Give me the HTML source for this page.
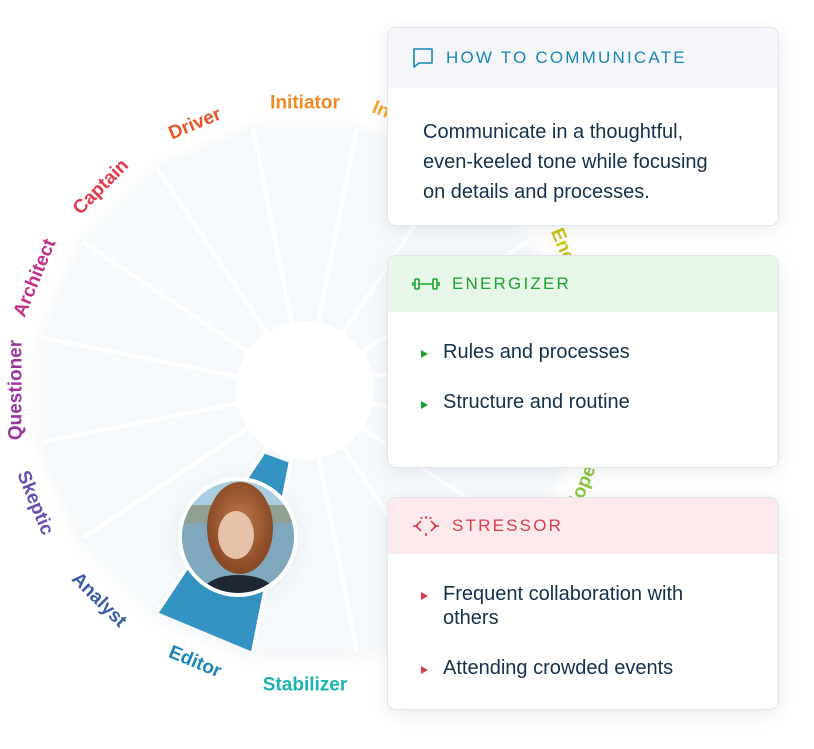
<!DOCTYPE html>
<html><head><meta charset="utf-8"><style>
body{margin:0;width:814px;height:749px;background:#fff;position:relative;overflow:hidden;font-family:"Liberation Sans",sans-serif}
svg{position:absolute;left:0;top:0}
.card{position:absolute;left:387px;width:390px;background:#fff;border:1px solid #e2e5e9;border-radius:9px;box-shadow:0 4px 18px rgba(40,60,90,.10);overflow:hidden}
.hd{height:60px;display:flex;align-items:center;padding-left:24px;font-size:17px;letter-spacing:2.2px}
.hd svg{position:static;margin-right:12px}
.body{color:#14304a;font-size:20px}
.li{position:absolute;left:55px;font-size:20px;color:#14304a;line-height:24px}
.tri{position:absolute;left:33px;width:0;height:0;border-top:4.5px solid transparent;border-bottom:4.5px solid transparent;border-left:7px solid}
</style></head><body>
<svg width="814" height="749">
<defs>
<filter id="sh" x="-20%" y="-20%" width="140%" height="140%"><feDropShadow dx="0" dy="3" stdDeviation="8" flood-color="#3a5570" flood-opacity=".08"/></filter>
<clipPath id="av"><circle cx="238" cy="537" r="56"/></clipPath>
<radialGradient id="hair" cx=".5" cy=".45" r=".5"><stop offset="0" stop-color="#c07a4a"/><stop offset="1" stop-color="#8a4a25"/></radialGradient>
</defs>
<polygon filter="url(#sh)" fill="#f5f9fc" points="253,128 357,128 453,168 527,242 567,338 567,442 527,538 453,612 357,652 253,652 157,612 83,538 43,442 43,338 83,242 157,168"/>
<polygon fill="#3393c2" points="253,652 157,612 263,453 290,463"/>
<g stroke="#fff" stroke-width="4">
<line x1="305" y1="390" x2="253" y2="128"/><line x1="305" y1="390" x2="357" y2="128"/><line x1="305" y1="390" x2="453" y2="168"/><line x1="305" y1="390" x2="527" y2="242"/><line x1="305" y1="390" x2="567" y2="338"/><line x1="305" y1="390" x2="567" y2="442"/><line x1="305" y1="390" x2="527" y2="538"/><line x1="305" y1="390" x2="453" y2="612"/><line x1="305" y1="390" x2="357" y2="652"/><line x1="305" y1="390" x2="253" y2="652"/><line x1="305" y1="390" x2="157" y2="612"/><line x1="305" y1="390" x2="83" y2="538"/><line x1="305" y1="390" x2="43" y2="442"/><line x1="305" y1="390" x2="43" y2="338"/><line x1="305" y1="390" x2="83" y2="242"/><line x1="305" y1="390" x2="157" y2="168"/>
</g>
<circle cx="305" cy="390" r="69" fill="#fff"/>
<g font-family="Liberation Sans,sans-serif" font-size="19" font-weight="bold" text-anchor="middle" dominant-baseline="central">
<text transform="translate(305,103)" fill="#f08a24">Initiator</text>
<text transform="translate(415,124) rotate(22.5)" fill="#f5a623">Influencer</text>
<text transform="translate(509,187) rotate(45)" fill="#e7c21a">Motivator</text>
<text transform="translate(576,278) rotate(67.5)" fill="#c9c614">Encourager</text>
<text transform="translate(576,502) rotate(-67.5)" fill="#8cc63f">Developer</text>
<text transform="translate(195,124) rotate(-22.5)" fill="#e8562a">Driver</text>
<text transform="translate(101,187) rotate(-45)" fill="#e03c4d">Captain</text>
<text transform="translate(35,278) rotate(-67.5)" fill="#c42f8a">Architect</text>
<text transform="translate(16,390) rotate(-90)" fill="#9b35a0">Questioner</text>
<text transform="translate(35,503) rotate(67.5)" fill="#6b4fb0">Skeptic</text>
<text transform="translate(99,600) rotate(45)" fill="#3b5aa8">Analyst</text>
<text transform="translate(195,662) rotate(22.5)" fill="#1a86b8">Editor</text>
<text transform="translate(305,685)" fill="#1ab5b0">Stabilizer</text>
</g>
<circle cx="238" cy="537" r="60" fill="#fff" filter="url(#sh)"/>
<g clip-path="url(#av)">
<rect x="180" y="480" width="120" height="120" fill="#a9cde0"/>
<rect x="180" y="520" width="120" height="80" fill="#7fa8bc"/>
<rect x="180" y="505" width="120" height="18" fill="#8f9f90"/>
<ellipse cx="240" cy="528" rx="33" ry="46" fill="url(#hair)"/>
<ellipse cx="236" cy="535" rx="18" ry="24" fill="#e7c2a8"/>
<path d="M195 600 Q205 575 238 575 Q272 575 282 600Z" fill="#1f2633"/>
</g>
</svg>

<div class="card" style="top:27px;height:197px">
<div class="hd" style="background:#f4f6f9;color:#1a86b8">
<svg width="22" height="22" viewBox="0 0 22 22"><path d="M2 2h18v14H7l-5 4z" fill="none" stroke="#1a86b8" stroke-width="1.6" stroke-linejoin="round"/></svg>HOW TO COMMUNICATE</div>
<div class="body" style="position:absolute;left:35px;top:89px;line-height:30px">Communicate in a thoughtful,<br>even-keeled tone while focusing<br>on details and processes.</div>
</div>

<div class="card" style="top:255px;height:211px">
<div class="hd" style="background:#e6f6e8;color:#1ea22f;height:56px">
<svg width="28" height="16" viewBox="0 0 28 16"><g fill="none" stroke="#1ea22f" stroke-width="1.6"><rect x="3" y="3" width="4" height="10" rx="1"/><rect x="21" y="3" width="4" height="10" rx="1"/><line x1="7" y1="8" x2="21" y2="8"/><line x1="1" y1="6" x2="1" y2="10"/><line x1="27" y1="6" x2="27" y2="10"/></g></svg>ENERGIZER</div>
<div class="tri" style="top:94px;border-left-color:#1ea22f"></div><div class="li" style="top:84px">Rules and processes</div>
<div class="tri" style="top:145px;border-left-color:#1ea22f"></div><div class="li" style="top:134px">Structure and routine</div>
</div>

<div class="card" style="top:497px;height:211px">
<div class="hd" style="background:#fbe9eb;color:#d93d4a;height:56px">
<svg width="28" height="22" viewBox="0 0 28 22"><g fill="none" stroke="#d93d4a" stroke-width="1.6"><path d="M9 6 L4 11 L9 16 M19 6 L24 11 L19 16"/><line x1="1" y1="11" x2="6" y2="11"/><line x1="22" y1="11" x2="27" y2="11"/><line x1="14" y1="1" x2="14" y2="4"/><line x1="14" y1="18" x2="14" y2="21"/><line x1="9" y1="2" x2="10" y2="4"/><line x1="19" y1="2" x2="18" y2="4"/></g></svg>STRESSOR</div>
<div class="tri" style="top:94px;border-left-color:#d93d4a"></div><div class="li" style="top:84px">Frequent collaboration with<br>others</div>
<div class="tri" style="top:168px;border-left-color:#d93d4a"></div><div class="li" style="top:158px">Attending crowded events</div>
</div>
</body></html>
